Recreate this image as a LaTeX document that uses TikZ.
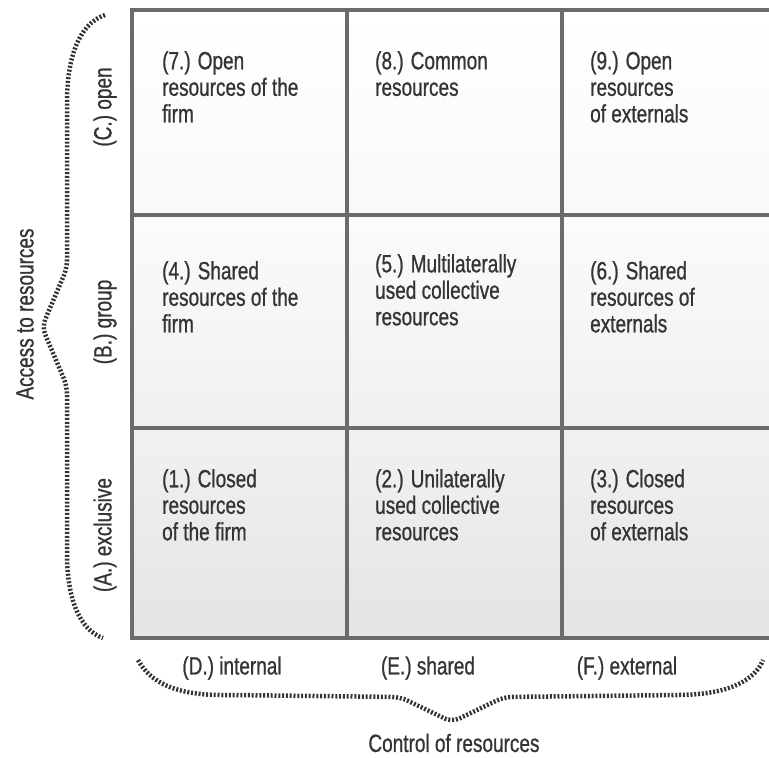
\documentclass[tikz,border=0pt]{standalone}
\usepackage{fontspec}
\setmainfont{Liberation Sans}[FakeStretch=0.76,FakeBold=0.8]
\usetikzlibrary{positioning}
\definecolor{ink}{RGB}{52,52,52}
\definecolor{rule}{RGB}{107,107,107}
\newcommand{\cellfont}{\fontsize{25}{26.5}\selectfont}
\tikzset{
  gridline/.style={draw=rule,line width=4.5pt},
  cell/.style={anchor=north west,inner sep=0pt,align=left,font=\cellfont,text=ink},
  axis/.style={inner sep=0pt,font=\cellfont,text=ink},
  brace/.style={draw=ink,line width=4.5pt,dash pattern=on 2pt off 1.8pt,rounded corners=8pt},
}

\begin{document}
\begin{tikzpicture}[x=1pt,y=-1pt]
    \useasboundingbox (0,0) rectangle (769,758);
    % shaded rows
    \shade[top color=white,bottom color=gray!5] (132,10) rectangle (769,215);
    \shade[top color=gray!3,bottom color=gray!12] (132,215) rectangle (769,428);
    \shade[top color=gray!11,bottom color=gray!21] (132,428) rectangle (769,638);
    \foreach \y in {10,215,428,638} \draw[gridline] (130,\y) -- (769,\y);
    \foreach \x in {132,347,562} \draw[gridline] (\x,8) -- (\x,640);
    % cells
    \node[cell] (c7) at (162,51) {(7.) Open\\resources of the\\firm};
    \node[cell] (c8) at (375,51) {(8.) Common\\resources};
    \node[cell] (c9) at (590,51) {(9.) Open\\resources\\of externals};
    \node[cell] (c4) at (162,261) {(4.) Shared\\resources of the\\firm};
    \node[cell] (c5) at (375,254) {(5.) Multilaterally\\used collective\\resources};
    \node[cell] (c6) at (590,261) {(6.) Shared\\resources of\\externals};
    \node[cell] (c1) at (162,469) {(1.) Closed\\resources\\of the firm};
    \node[cell] (c2) at (375,469) {(2.) Unilaterally\\used collective\\resources};
    \node[cell] (c3) at (590,469) {(3.) Closed\\resources\\of externals};
    % axis labels
    \node[axis,rotate=90] (rC) at (105,107) {(C.) open};
    \node[axis,rotate=90] (rB) at (105,322) {(B.) group};
    \node[axis,rotate=90] (rA) at (105,535) {(A.) exclusive};
    \node[axis,rotate=90] (access) at (25,314) {Access to resources};
    \node[axis] (cD) at (232,668) {(D.) internal};
    \node[axis] (cE) at (428,668) {(E.) shared};
    \node[axis] (cF) at (627,668) {(F.) external};
    \node[axis] (control) at (454,743) {Control of resources};
    % braces
    \draw[brace] (105,15) .. controls (78,24) and (67,60) .. (67,110)
      -- (67,268) -- (42,327) -- (67,386) -- (67,545)
      .. controls (67,600) and (80,630) .. (103,638);
    \draw[brace] (138,660) .. controls (150,682) and (175,695) .. (230,695)
      -- (400,697) -- (452,722) -- (504,697) -- (680,695)
      .. controls (730,693) and (755,680) .. (763,660);
  \end{tikzpicture}
\end{document}
